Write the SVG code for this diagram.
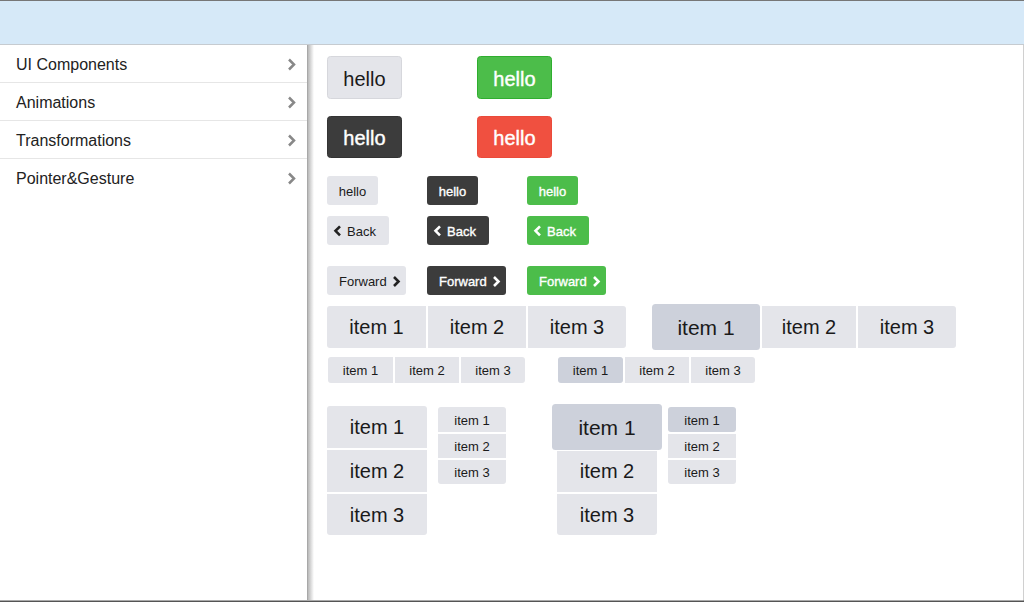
<svg xmlns="http://www.w3.org/2000/svg" width="1024" height="602" viewBox="0 0 1024 602">
<defs>
<linearGradient id="shadow" x1="0" y1="0" x2="1" y2="0">
<stop offset="0" stop-color="#000" stop-opacity="0.28"/>
<stop offset="1" stop-color="#000" stop-opacity="0"/>
</linearGradient>
<style>
text{font-family:"Liberation Sans",Arial,sans-serif}
.menu{font-size:16px;fill:#222}
.sep{stroke:#e6e6e6;stroke-width:1}
.chev{fill:none;stroke:#888;stroke-width:2.5}
.lt{fill:#e4e5ea}
.sel{fill:#cdd1db}
.dk{fill:#3c3c3c}
.gr{fill:#4cbd4a}
.rd{fill:#f05040}
.t20{font-size:20px;text-anchor:middle;fill:#1a1a1a}
.t21{font-size:21px;text-anchor:middle;fill:#1a1a1a}
.t13{font-size:13px;text-anchor:middle;fill:#1a1a1a}
.w20{font-size:20px;text-anchor:middle;fill:#fff;stroke:#fff;stroke-width:0.4}
.w13{font-size:13px;fill:#fff;stroke:#fff;stroke-width:0.35}
.b13{font-size:13px;fill:#1a1a1a}
.ic{fill:none;stroke-width:2.6;stroke-linecap:butt;stroke-linejoin:miter}
</style>
</defs>
<rect width="1024" height="602" fill="#fff"/>
<g id="header">
<rect x="0" y="0" width="1024" height="44" fill="#d6e9f8"/>
<rect x="0" y="0" width="1024" height="1" fill="#777"/>
<rect x="0" y="44" width="1024" height="1" fill="#c6cbd0"/>
</g>
<g id="frame">
<rect x="1023" y="45" width="1" height="556" fill="#d0d0d0"/>
<rect x="0" y="600.5" width="1024" height="1.5" fill="#555"/>
</g>
<g id="sidebar">
<rect x="0" y="45" width="307" height="555" fill="#fff"/>
<rect x="307" y="45" width="1" height="555" fill="#a8a8a8"/>
<rect x="308" y="45" width="6" height="555" fill="url(#shadow)"/>
<g id="menu-ui"><text class="menu" x="16" y="70">UI Components</text><path class="chev" d="M289 59.5 L294 64.5 L289 69.5"/></g>
<line class="sep" x1="0" y1="82.5" x2="307" y2="82.5"/>
<g id="menu-anim"><text class="menu" x="16" y="108">Animations</text><path class="chev" d="M289 97.5 L294 102.5 L289 107.5"/></g>
<line class="sep" x1="0" y1="120.5" x2="307" y2="120.5"/>
<g id="menu-trans"><text class="menu" x="16" y="146">Transformations</text><path class="chev" d="M289 135.5 L294 140.5 L289 145.5"/></g>
<line class="sep" x1="0" y1="158.5" x2="307" y2="158.5"/>
<g id="menu-pointer"><text class="menu" x="16" y="184">Pointer&amp;Gesture</text><path class="chev" d="M289 173.5 L294 178.5 L289 183.5"/></g>
</g>

<g id="btn-large-light"><rect class="lt" x="327.5" y="56.5" width="74" height="42" rx="3" stroke="#d6d7dc"/><text class="t20" x="364.5" y="85.5">hello</text></g>
<g id="btn-large-green"><rect class="gr" x="477.5" y="56.5" width="74" height="42" rx="3" stroke="#2fae2f"/><text class="w20" x="514.5" y="85.5">hello</text></g>
<g id="btn-large-dark"><rect class="dk" x="327.5" y="116.5" width="74" height="41" rx="3" stroke="#333"/><text class="w20" x="364.5" y="145">hello</text></g>
<g id="btn-large-red"><rect class="rd" x="477.5" y="116.5" width="74" height="41" rx="3" stroke="#ea4a3a"/><text class="w20" x="514.5" y="145">hello</text></g>

<g id="btn-small-light"><rect class="lt" x="327" y="176" width="51" height="29" rx="3"/><text class="t13" x="352.5" y="195.5">hello</text></g>
<g id="btn-small-dark"><rect class="dk" x="427" y="176" width="51" height="29" rx="3"/><text class="w13" x="452.5" y="195.5" text-anchor="middle">hello</text></g>
<g id="btn-small-green"><rect class="gr" x="527" y="176" width="51" height="29" rx="3"/><text class="w13" x="552.5" y="195.5" text-anchor="middle">hello</text></g>

<g id="btn-back-light"><rect class="lt" x="327" y="216" width="62" height="29" rx="3"/><path class="ic" stroke="#222" d="M340 226.3 L335.5 230.8 L340 235.3"/><text class="b13" x="347" y="235.5">Back</text></g>
<g id="btn-back-dark"><rect class="dk" x="427" y="216" width="62" height="29" rx="3"/><path class="ic" stroke="#fff" d="M440 226.3 L435.5 230.8 L440 235.3"/><text class="w13" x="447" y="235.5">Back</text></g>
<g id="btn-back-green"><rect class="gr" x="527" y="216" width="62" height="29" rx="3"/><path class="ic" stroke="#fff" d="M540 226.3 L535.5 230.8 L540 235.3"/><text class="w13" x="547" y="235.5">Back</text></g>

<g id="btn-fwd-light"><rect class="lt" x="327" y="266" width="79" height="29" rx="3"/><text class="b13" x="339" y="285.5">Forward</text><path class="ic" stroke="#222" d="M394 277 L398.5 281.5 L394 286"/></g>
<g id="btn-fwd-dark"><rect class="dk" x="427" y="266" width="79" height="29" rx="3"/><text class="w13" x="439" y="285.5">Forward</text><path class="ic" stroke="#fff" d="M494 277 L498.5 281.5 L494 286"/></g>
<g id="btn-fwd-green"><rect class="gr" x="527" y="266" width="79" height="29" rx="3"/><text class="w13" x="539" y="285.5">Forward</text><path class="ic" stroke="#fff" d="M594 277 L598.5 281.5 L594 286"/></g>

<g id="seg-large-h">
<path class="lt" d="M330 306 H426 V348 H330 A3 3 0 0 1 327 345 V309 A3 3 0 0 1 330 306 Z"/>
<rect class="lt" x="428" y="306" width="98" height="42"/>
<path class="lt" d="M528 306 H623 A3 3 0 0 1 626 309 V345 A3 3 0 0 1 623 348 H528 Z"/>
<text class="t20" x="376.5" y="334">item 1</text>
<text class="t20" x="477" y="334">item 2</text>
<text class="t20" x="577" y="334">item 3</text>
</g>

<g id="seg-large-h-selected">
<rect class="lt" x="762" y="306" width="94" height="42"/>
<path class="lt" d="M858 306 H953 A3 3 0 0 1 956 309 V345 A3 3 0 0 1 953 348 H858 Z"/>
<rect class="sel" x="652" y="304" width="108" height="46" rx="3.5"/>
<text class="t21" x="706" y="335">item 1</text>
<text class="t20" x="809" y="334">item 2</text>
<text class="t20" x="907" y="334">item 3</text>
</g>

<g id="seg-small-h">
<path class="lt" d="M331 357 H393 V383 H331 A3 3 0 0 1 328 380 V360 A3 3 0 0 1 331 357 Z"/>
<rect class="lt" x="395" y="357" width="64" height="26"/>
<path class="lt" d="M461 357 H522 A3 3 0 0 1 525 360 V380 A3 3 0 0 1 522 383 H461 Z"/>
<text class="t13" x="360.5" y="375">item 1</text>
<text class="t13" x="427" y="375">item 2</text>
<text class="t13" x="493" y="375">item 3</text>
</g>

<g id="seg-small-h-selected">
<rect class="sel" x="558" y="357" width="65" height="26" rx="3"/>
<rect class="lt" x="625" y="357" width="64" height="26"/>
<path class="lt" d="M691 357 H752 A3 3 0 0 1 755 360 V380 A3 3 0 0 1 752 383 H691 Z"/>
<text class="t13" x="590.5" y="375">item 1</text>
<text class="t13" x="657" y="375">item 2</text>
<text class="t13" x="723" y="375">item 3</text>
</g>

<g id="seg-large-v">
<path class="lt" d="M327 448 V409 A3 3 0 0 1 330 406 H424 A3 3 0 0 1 427 409 V448 Z"/>
<rect class="lt" x="327" y="450" width="100" height="42"/>
<path class="lt" d="M327 494 H427 V532 A3 3 0 0 1 424 535 H330 A3 3 0 0 1 327 532 Z"/>
<text class="t20" x="377" y="434">item 1</text>
<text class="t20" x="377" y="478">item 2</text>
<text class="t20" x="377" y="521.5">item 3</text>
</g>

<g id="seg-small-v">
<path class="lt" d="M438 432 V410 A3 3 0 0 1 441 407 H503 A3 3 0 0 1 506 410 V432 Z"/>
<rect class="lt" x="438" y="434" width="68" height="24"/>
<path class="lt" d="M438 460 H506 V481 A3 3 0 0 1 503 484 H441 A3 3 0 0 1 438 481 Z"/>
<text class="t13" x="472" y="424.5">item 1</text>
<text class="t13" x="472" y="451">item 2</text>
<text class="t13" x="472" y="477">item 3</text>
</g>

<g id="seg-large-v-selected">
<rect class="lt" x="557" y="451" width="100" height="41"/>
<path class="lt" d="M557 494 H657 V532 A3 3 0 0 1 654 535 H560 A3 3 0 0 1 557 532 Z"/>
<rect class="sel" x="552" y="404" width="110" height="46" rx="3.5"/>
<text class="t21" x="607" y="435">item 1</text>
<text class="t20" x="607" y="478">item 2</text>
<text class="t20" x="607" y="521.5">item 3</text>
</g>

<g id="seg-small-v-selected">
<rect class="sel" x="668" y="407" width="68" height="25" rx="3"/>
<rect class="lt" x="668" y="434" width="68" height="24"/>
<path class="lt" d="M668 460 H736 V481 A3 3 0 0 1 733 484 H671 A3 3 0 0 1 668 481 Z"/>
<text class="t13" x="702" y="424.5">item 1</text>
<text class="t13" x="702" y="451">item 2</text>
<text class="t13" x="702" y="477">item 3</text>
</g>
</svg>
